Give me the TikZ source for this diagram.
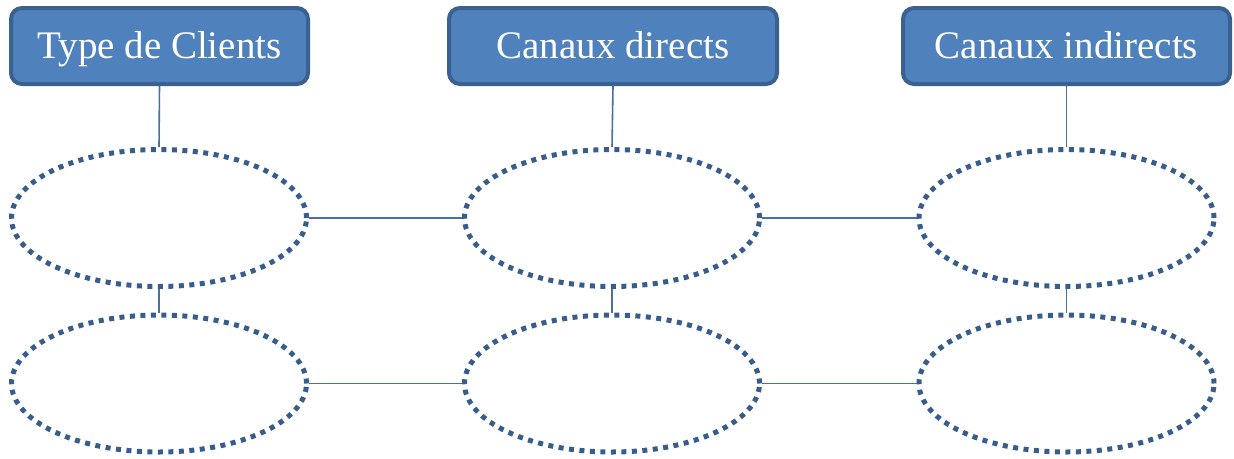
\documentclass[tikz,border=0pt]{standalone}
\usepackage{fontspec}
\setmainfont{Liberation Serif}
\usetikzlibrary{shapes.geometric}
\definecolor{boxfill}{HTML}{4F81BD}
\definecolor{boxedge}{HTML}{3A6190}
\definecolor{dotblue}{HTML}{385D8A}
\definecolor{linkblue}{HTML}{4A6FA5}
\begin{document}
\begin{tikzpicture}[x=1pt,y=-1pt,
  header/.style={rectangle, rounded corners=11pt, fill=boxfill, draw=boxedge,
    line width=4pt, minimum height=76pt, inner sep=0pt, text=white,
    text height=30pt, text depth=5pt,
    font=\fontsize{39}{42}\selectfont},
  slot/.style={ellipse, draw=dotblue, line width=5pt,
    dash pattern=on 5pt off 5.5pt, minimum width=295pt, minimum height=137pt,
    inner sep=0pt},
  link/.style={draw=linkblue, line width=1.6pt}]
\useasboundingbox (0,0) rectangle (1234,458);
% column headers
\node[header, minimum width=297pt] (h1) at (159.5,46) {Type de Clients};
\node[header, minimum width=328pt] (h2) at (613,46) {Canaux directs};
\node[header, minimum width=327pt] (h3) at (1066.5,46) {Canaux indirects};
% empty dotted slots, two rows
\node[slot] (a1) at (159,218) {};
\node[slot] (a2) at (612,218) {};
\node[slot] (a3) at (1066.5,218) {};
\node[slot] (b1) at (159,383.5) {};
\node[slot] (b2) at (612,383.5) {};
\node[slot] (b3) at (1066.5,383.5) {};
% connectors
\draw[link] (h1.south) -- (a1.north);
\draw[link] (h2.south) -- (a2.north);
\draw[link] (h3.south) -- (a3.north);
\draw[link] (a1.south) -- (b1.north);
\draw[link] (a2.south) -- (b2.north);
\draw[link] (a3.south) -- (b3.north);
\draw[link] (a1.east) -- (a2.west);
\draw[link] (a2.east) -- (a3.west);
\draw[link] (b1.east) -- (b2.west);
\draw[link] (b2.east) -- (b3.west);
\end{tikzpicture}
\end{document}
